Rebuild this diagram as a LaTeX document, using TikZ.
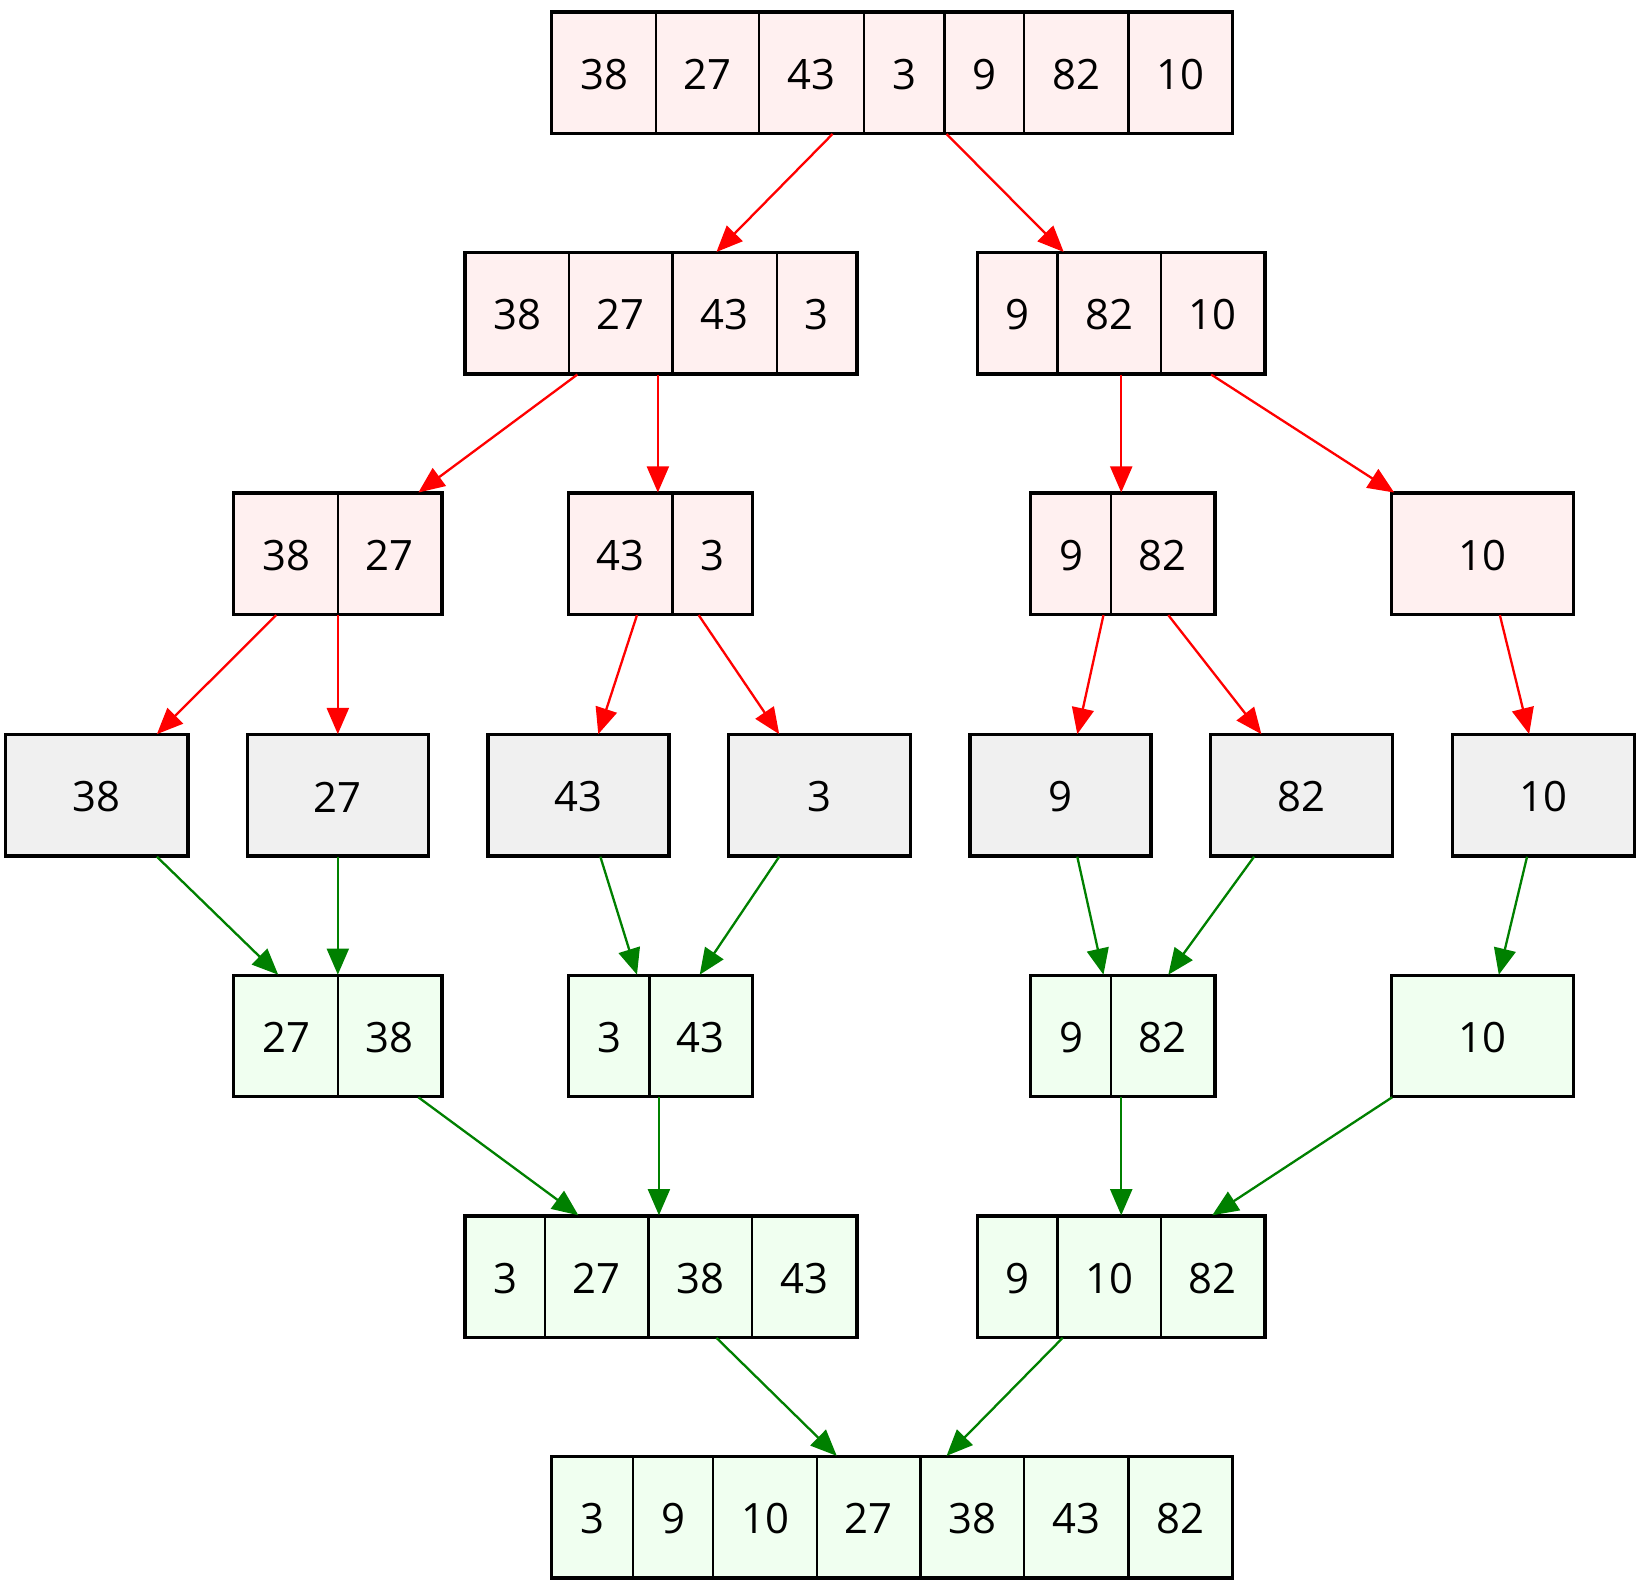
\documentclass[tikz,border=0pt]{standalone}
\usepackage{fontspec}
\setmainfont{Open Sans}
\usetikzlibrary{arrows.meta}
\definecolor{pinkf}{HTML}{FFF0F0}
\definecolor{greenf}{HTML}{F0FFF0}
\definecolor{grayf}{HTML}{F0F0F0}
\definecolor{gline}{HTML}{008000}
\tikzset{
 recbox/.style={draw=black,line width=2.2pt,inner sep=0pt},
 lbl/.style={font=\fontsize{40}{40}\selectfont,inner sep=0pt},
 redarr/.style={draw=red,line width=2.2pt,-{Triangle[length=25pt,width=21pt]}},
 grnarr/.style={draw=gline,line width=2.2pt,-{Triangle[length=25pt,width=21pt]}}
}
% #1 name, #2 fill, #3 ytop, #4 xleft, #5 xright, #6 list of x0/x1/label
\newcommand\myrec[6]{%
 \node[recbox,fill=#2,minimum width=#5pt-#4pt,minimum height=115pt] (#1) at ({(#4+#5)/2},{#3+57.5}) {};
 \foreach \a/\b/\t in {#6}{%
   \draw[line width=2.2pt] (\b,#3) -- (\b,#3+115);
   \node[lbl] at ({(\a+\b)/2},{#3+59}) {\t};
 }%
 \draw[line width=2.2pt] (#1.north west) rectangle (#1.south east);
}
\begin{document}
\begin{tikzpicture}[x=1pt,y=-1pt]
\useasboundingbox (0,0) rectangle (1568,1516);
\myrec{r1}{pinkf}{12}{528}{1178}{528/627/38,627/726/27,726/826/43,826/903/3,903/979/9,979/1079/82,1079/1178/10}
\myrec{r2a}{pinkf}{242}{445}{819}{445/544/38,544/643/27,643/743/43,743/819/3}
\myrec{r2b}{pinkf}{242}{935}{1209}{935/1011/9,1011/1110/82,1110/1209/10}
\myrec{r3a}{pinkf}{472}{224}{422}{224/323/38,323/422/27}
\myrec{r3b}{pinkf}{472}{544}{719}{544/643/43,643/719/3}
\myrec{r3c}{pinkf}{472}{986}{1161}{986/1062/9,1062/1161/82}
\myrec{r3d}{pinkf}{472}{1331}{1504}{1331/1504/10}
\myrec{l1}{grayf}{703}{6}{179}{6/179/38}
\myrec{l2}{grayf}{703}{237}{409}{237/409/27}
\myrec{l3}{grayf}{703}{467}{639}{467/639/43}
\myrec{l4}{grayf}{703}{697}{870}{697/870/3}
\myrec{l5}{grayf}{703}{928}{1100}{928/1100/9}
\myrec{l6}{grayf}{703}{1158}{1331}{1158/1331/82}
\myrec{l7}{grayf}{703}{1389}{1562}{1389/1562/10}
\myrec{m1}{greenf}{933}{224}{422}{224/323/27,323/422/38}
\myrec{m2}{greenf}{933}{544}{719}{544/621/3,621/719/43}
\myrec{m3}{greenf}{933}{986}{1161}{986/1062/9,1062/1161/82}
\myrec{m4}{greenf}{933}{1331}{1504}{1331/1504/10}
\myrec{n1}{greenf}{1163}{445}{819}{445/521/3,521/620/27,620/719/38,719/819/43}
\myrec{n2}{greenf}{1163}{935}{1209}{935/1011/9,1011/1110/10,1110/1209/82}
\myrec{f}{greenf}{1393}{528}{1178}{528/605/3,605/682/9,682/781/10,781/880/27,880/979/38,979/1079/43,1079/1178/82}
\draw[redarr] (r1.south -| 796,0) -- (r2a.north -| 685,0);
\draw[redarr] (r1.south -| 905,0) -- (r2b.north -| 1017,0);
\draw[redarr] (r2a.south -| 552,0) -- (r3a.north -| 400,0);
\draw[redarr] (r2a.south -| 629,0) -- (r3b.north -| 629,0);
\draw[redarr] (r2b.south -| 1072,0) -- (r3c.north -| 1072,0);
\draw[redarr] (r2b.south -| 1158,0) -- (r3d.north -| 1333,0);
\draw[redarr] (r3a.south -| 264,0) -- (l1.north -| 150,0);
\draw[redarr] (r3a.south -| 323,0) -- (l2.north -| 323,0);
\draw[redarr] (r3b.south -| 609,0) -- (l3.north -| 572,0);
\draw[redarr] (r3b.south -| 668,0) -- (l4.north -| 745,0);
\draw[redarr] (r3c.south -| 1055,0) -- (l5.north -| 1030,0);
\draw[redarr] (r3c.south -| 1117,0) -- (l6.north -| 1206,0);
\draw[redarr] (r3d.south -| 1434,0) -- (l7.north -| 1462,0);
\draw[grnarr] (l1.south -| 150,0) -- (m1.north -| 266,0);
\draw[grnarr] (l2.south -| 323,0) -- (m1.north -| 323,0);
\draw[grnarr] (l3.south -| 574,0) -- (m2.north -| 609,0);
\draw[grnarr] (l4.south -| 745,0) -- (m2.north -| 669,0);
\draw[grnarr] (l5.south -| 1030,0) -- (m3.north -| 1055,0);
\draw[grnarr] (l6.south -| 1199,0) -- (m3.north -| 1117,0);
\draw[grnarr] (l7.south -| 1460,0) -- (m4.north -| 1433,0);
\draw[grnarr] (m1.south -| 400,0) -- (n1.north -| 553,0);
\draw[grnarr] (m2.south -| 630,0) -- (n1.north -| 630,0);
\draw[grnarr] (m3.south -| 1072,0) -- (n2.north -| 1072,0);
\draw[grnarr] (m4.south -| 1331,0) -- (n2.north -| 1159,0);
\draw[grnarr] (n1.south -| 685,0) -- (f.north -| 800,0);
\draw[grnarr] (n2.south -| 1016,0) -- (f.north -| 905,0);
\end{tikzpicture}
\end{document}
